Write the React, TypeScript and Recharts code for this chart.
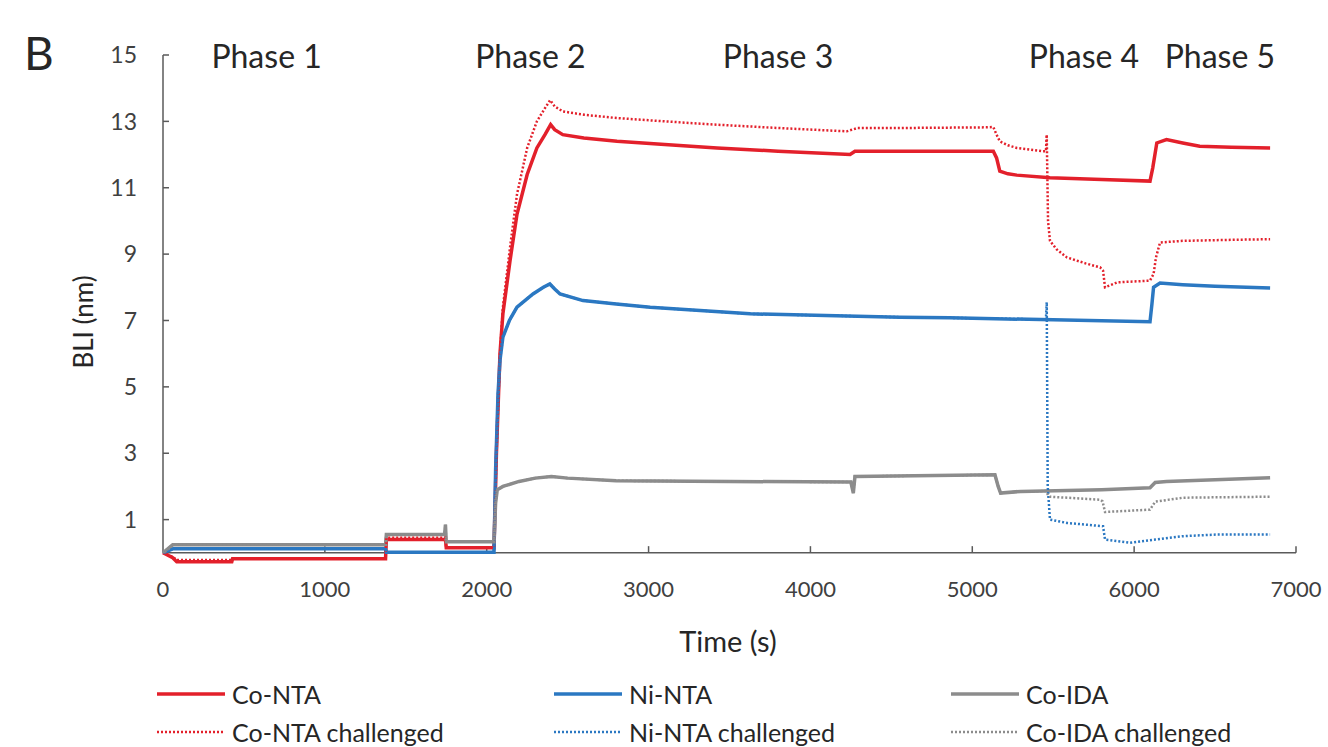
import React from 'react';
import { LineChart, Line, XAxis, YAxis, ReferenceLine, ReferenceDot } from 'recharts';

// axis ticks
const xTicks = [0, 1000, 2000, 3000, 4000, 5000, 6000, 7000];
const yTicks = [1, 3, 5, 7, 9, 11, 13, 15];

// phase labels and where (in seconds) they sit
const phaseLabels = ['Phase 1', 'Phase 2', 'Phase 3', 'Phase 4', 'Phase 5'];
const phaseTimes = [640, 2270, 3800, 5690, 6530];

// [time (s), BLI (nm)]
const coNta: [number, number][] = [
  [0, 0], [60, -0.15], [85, -0.27], [425, -0.27], [430, -0.18], [1375, -0.18], [1380, 0.4], [1745, 0.4],
  [1750, 0.15], [2045, 0.15], [2060, 3.0], [2082, 6.0], [2100, 7.2], [2144, 8.8], [2187, 10.2], [2250, 11.4],
  [2310, 12.2], [2360, 12.6], [2395, 12.9], [2420, 12.75], [2470, 12.6], [2600, 12.5], [2805, 12.4],
  [3100, 12.3], [3423, 12.2], [3800, 12.1], [4245, 12.0], [4275, 12.1], [4600, 12.1], [5000, 12.1],
  [5130, 12.1], [5150, 11.9], [5170, 11.5], [5220, 11.42], [5275, 11.38], [5480, 11.3], [5800, 11.25],
  [6098, 11.2], [6115, 11.6], [6140, 12.35], [6200, 12.45], [6300, 12.35], [6405, 12.25], [6600, 12.22],
  [6840, 12.2],
];

const niNta: [number, number][] = [
  [0, 0], [60, 0.12], [1375, 0.12], [1380, 0.02], [2045, 0.02], [2055, 2.5], [2070, 4.8], [2082, 5.8],
  [2100, 6.5], [2140, 7.0], [2187, 7.4], [2286, 7.8], [2350, 8.0], [2390, 8.1], [2420, 7.95], [2453, 7.8],
  [2595, 7.6], [2800, 7.5], [3010, 7.4], [3627, 7.2], [4553, 7.1], [4862, 7.08], [5500, 7.02], [6098, 6.96],
  [6110, 7.5], [6120, 8.0], [6160, 8.13], [6300, 8.08], [6500, 8.03], [6840, 7.98],
];

const coIda: [number, number][] = [
  [0, 0], [60, 0.24], [1375, 0.24], [1380, 0.55], [1740, 0.55], [1745, 0.85], [1750, 0.33], [2045, 0.33],
  [2055, 1.5], [2065, 1.9], [2100, 2.0], [2200, 2.15], [2300, 2.25], [2400, 2.3], [2500, 2.25], [2800, 2.17],
  [3500, 2.15], [4250, 2.13], [4265, 1.8], [4275, 2.3], [5140, 2.35], [5160, 2.0], [5175, 1.8], [5300, 1.85],
  [5800, 1.9], [6098, 1.96], [6130, 2.12], [6200, 2.15], [6500, 2.2], [6840, 2.26],
];

const coNtaChallenged: [number, number][] = [
  [0, 0], [60, -0.12], [85, -0.22], [425, -0.22], [430, -0.18], [1375, -0.18], [1380, 0.45], [1745, 0.45],
  [1750, 0.15], [2045, 0.15], [2060, 3.0], [2082, 6.0], [2100, 7.4], [2144, 9.2], [2187, 10.8], [2250, 12.2],
  [2310, 13.0], [2360, 13.4], [2392, 13.64], [2420, 13.45], [2470, 13.3], [2600, 13.2], [2805, 13.1],
  [3100, 13.0], [3423, 12.9], [3800, 12.8], [4225, 12.7], [4290, 12.8], [4553, 12.8], [5090, 12.82],
  [5130, 12.83], [5150, 12.6], [5170, 12.4], [5220, 12.28], [5275, 12.2], [5437, 12.1], [5455, 12.1],
  [5460, 12.6], [5468, 10.0], [5480, 9.4], [5520, 9.15], [5585, 8.9], [5700, 8.72], [5790, 8.6], [5808, 8.5],
  [5820, 8.0], [5895, 8.15], [6098, 8.2], [6120, 8.4], [6135, 8.9], [6160, 9.35], [6300, 9.4], [6600, 9.43],
  [6840, 9.45],
];

const niNtaChallenged: [number, number][] = [
  [0, 0], [60, 0.12], [1375, 0.12], [1380, 0.02], [2045, 0.02], [2055, 2.5], [2070, 4.8], [2082, 5.8],
  [2100, 6.5], [2140, 7.0], [2187, 7.4], [2286, 7.8], [2350, 8.0], [2390, 8.1], [2420, 7.95], [2453, 7.8],
  [2595, 7.6], [2800, 7.5], [3010, 7.4], [3627, 7.2], [4553, 7.1], [4862, 7.08], [5455, 7.03], [5460, 7.55],
  [5466, 2.0], [5480, 1.0], [5585, 0.9], [5808, 0.8], [5820, 0.4], [5975, 0.3], [6098, 0.38], [6130, 0.4],
  [6300, 0.5], [6510, 0.55], [6840, 0.55],
];

const coIdaChallenged: [number, number][] = [
  [0, 0], [60, 0.24], [1375, 0.24], [1380, 0.55], [1740, 0.55], [1745, 0.85], [1750, 0.33], [2045, 0.33],
  [2055, 1.5], [2065, 1.9], [2100, 2.0], [2200, 2.15], [2300, 2.25], [2400, 2.3], [2500, 2.25], [2800, 2.17],
  [3500, 2.15], [4250, 2.13], [4265, 1.8], [4275, 2.3], [5140, 2.35], [5160, 2.0], [5175, 1.8], [5300, 1.85],
  [5455, 1.86], [5470, 1.72], [5480, 1.69], [5790, 1.6], [5805, 1.55], [5820, 1.23], [6098, 1.3],
  [6130, 1.54], [6300, 1.66], [6840, 1.69],
];

const RED = '#e3202b';
const BLUE = '#2b78c2';
const GREY = '#8c8c8c';
const AXIS = '#5a5a5a';
const TEXT = '#262626';
const FONT = 'Lato, sans-serif';

// legend order = row by row, like the original
const series = [
  { name: 'Co-NTA', points: coNta, color: RED, dash: undefined },
  { name: 'Ni-NTA', points: niNta, color: BLUE, dash: undefined },
  { name: 'Co-IDA', points: coIda, color: GREY, dash: undefined },
  { name: 'Co-NTA challenged', points: coNtaChallenged, color: RED, dash: '2 2' },
  { name: 'Ni-NTA challenged', points: niNtaChallenged, color: BLUE, dash: '2 2' },
  { name: 'Co-IDA challenged', points: coIdaChallenged, color: GREY, dash: '2 2' },
];

export default function App() {
  return (
    <div style={{ position: 'absolute', left: 0, top: 0, width: 1328, height: 747, background: '#fff', fontFamily: FONT, color: TEXT }}>
      <div style={{ position: 'absolute', left: 24, top: 30, fontSize: 46, lineHeight: 1 }}>B</div>

      <LineChart width={1328} height={747} margin={{ top: 55, right: 32, bottom: 136, left: 103 }}>
        <XAxis
          type="number"
          dataKey="t"
          domain={[0, 7000]}
          ticks={xTicks}
          interval={0}
          axisLine={false}
          tickLine={false}
          tickSize={0}
          tickMargin={0}
          height={30}
          tick={{ fontSize: 22, fill: '#404040', fontFamily: FONT }}
        />
        <YAxis
          type="number"
          domain={[-0.85, 15]}
          ticks={yTicks}
          interval={0}
          allowDataOverflow
          axisLine={false}
          tickSize={-6}
          tickMargin={32}
          width={60}
          tickLine={{ stroke: AXIS, strokeWidth: 1.5 }}
          tick={{ fontSize: 23, fill: '#404040', fontFamily: FONT }}
        />

        {/* axis lines: x crosses at 0, y runs 0..15 */}
        <ReferenceLine y={0} stroke={AXIS} strokeWidth={1.5} />
        <ReferenceLine segment={[{ x: 0, y: 0 }, { x: 0, y: 15 }]} stroke={AXIS} strokeWidth={1.5} />
        {xTicks.slice(1).map((t) => (
          <ReferenceLine key={t} segment={[{ x: t, y: 0 }, { x: t, y: 0.2 }]} stroke={AXIS} strokeWidth={1.5} />
        ))}

        {series.map((s) => (
          <Line
            key={s.name}
            data={s.points.map(([t, v]) => ({ t, v }))}
            dataKey="v"
            type="linear"
            stroke={s.color}
            strokeWidth={s.dash ? 2.5 : 3.5}
            strokeDasharray={s.dash}
            dot={false}
            isAnimationActive={false}
          />
        ))}

        {phaseLabels.map((p, i) => (
          <ReferenceDot
            key={p}
            x={phaseTimes[i]}
            y={14.94}
            r={0}
            fill="none"
            stroke="none"
            ifOverflow="visible"
            label={{ value: p, position: 'center', fontSize: 32, fill: TEXT, fontFamily: FONT }}
          />
        ))}
      </LineChart>

      <div style={{ position: 'absolute', left: 83, top: 322, transform: 'translate(-50%, -50%) rotate(-90deg)', fontSize: 26, lineHeight: 1, whiteSpace: 'nowrap' }}>
        BLI (nm)
      </div>
      <div style={{ position: 'absolute', left: 728, top: 640, transform: 'translate(-50%, -50%)', fontSize: 29, lineHeight: 1, whiteSpace: 'nowrap' }}>
        Time (s)
      </div>

      <div style={{ position: 'absolute', left: 157, top: 675, display: 'grid', gridTemplateColumns: '397px 397px 300px' }}>
        {series.map((s) => (
          <div key={s.name} style={{ display: 'flex', alignItems: 'center', height: 38 }}>
            <svg width={68} height={10}>
              <line x1={0} y1={5} x2={68} y2={5} stroke={s.color} strokeWidth={s.dash ? 2.5 : 3.5} strokeDasharray={s.dash} />
            </svg>
            <span style={{ marginLeft: 7, fontSize: 25, lineHeight: 1, whiteSpace: 'nowrap' }}>{s.name}</span>
          </div>
        ))}
      </div>
    </div>
  );
}
